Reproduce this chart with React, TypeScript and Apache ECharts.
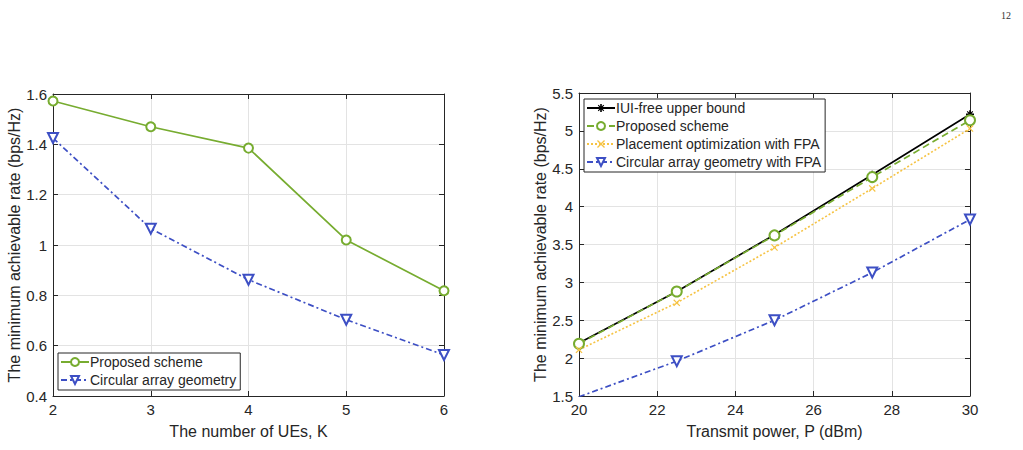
import React, { useEffect, useRef } from "react";
import * as echarts from "echarts";

const ueCounts = [2, 3, 4, 5, 6];
const leftProposed = [1.572, 1.47, 1.385, 1.02, 0.818];
const leftCircular = [1.425, 1.065, 0.862, 0.703, 0.563];

const powers = [20, 22.5, 25, 27.5, 30];
const iuiFree = [2.2, 2.88, 3.63, 4.42, 5.22];
const rightProposed = [2.19, 2.88, 3.62, 4.39, 5.14];
const placementFPA = [2.11, 2.73, 3.46, 4.24, 5.03];
const circularFPA = [1.49, 1.96, 2.5, 3.13, 3.83];

const GREEN = "#77AC30";
const BLUE = "#3D4FC4";
const YELLOW = "#F6C343";
const AXIS = "#262626";
const FONT = "Liberation Sans, Arial, Helvetica, sans-serif";

const X_SYM = "path://M0,1.2 L1.2,0 L5,3.8 L8.8,0 L10,1.2 L6.2,5 L10,8.8 L8.8,10 L5,6.2 L1.2,10 L0,8.8 L3.8,5 Z";
const STAR_SYM =
  "path://M4,0 L6,0 L6,10 L4,10 Z M0,4 L10,4 L10,6 L0,6 Z M1,2 L2,1 L9,8 L8,9 Z M8,1 L9,2 L2,9 L1,8 Z";

const nameMap: Record<string, string> = {
  "Proposed scheme ": "Proposed scheme",
};

function zip(xs: number[], ys: number[]) {
  return xs.map((x, i) => [x, ys[i]]);
}

export default function App() {
  const ref = useRef<HTMLDivElement>(null);
  useEffect(() => {
    if (!ref.current) return;
    const chart = echarts.init(ref.current, undefined, { renderer: "svg" });
    const axisCommon = {
      type: "value" as const,
      axisLine: { show: true, lineStyle: { color: AXIS, width: 1 } },
      axisTick: { show: true, inside: true, length: 5, lineStyle: { color: AXIS } },
      axisLabel: { color: AXIS, fontSize: 15, fontFamily: FONT, margin: 6 },
      splitLine: { show: true, lineStyle: { color: "#e3e3e3", width: 1 } },
      nameLocation: "middle" as const,
      nameTextStyle: { color: AXIS, fontSize: 16, fontFamily: FONT },
    };
    const mirror = {
      type: "value" as const,
      axisLine: { show: true, lineStyle: { color: AXIS, width: 1 } },
      axisTick: { show: true, inside: true, length: 5, lineStyle: { color: AXIS } },
      axisLabel: { show: false },
      splitLine: { show: false },
    };
    const legendCommon = {
      orient: "vertical" as const,
      itemWidth: 28,
      itemHeight: 10,
      padding: [2, 4, 3, 2],
      borderColor: AXIS,
      borderWidth: 1,
      backgroundColor: "#ffffff",
      textStyle: { color: AXIS, fontSize: 14, fontFamily: FONT, padding: [0, 0, 0, -4] },
      selectedMode: false,
    };
    chart.setOption({
      animation: false,
      backgroundColor: "#ffffff",
      grid: [
        { left: 53, top: 94, width: 391, height: 302 },
        { left: 579, top: 93, width: 391, height: 303 },
      ],
      xAxis: [
        { ...axisCommon, gridIndex: 0, min: 2, max: 6, interval: 1, name: "The number of UEs, K", nameGap: 27 },
        { ...axisCommon, gridIndex: 1, min: 20, max: 30, interval: 2, name: "Transmit power, P (dBm)", nameGap: 27 },
        { ...mirror, gridIndex: 0, position: "top", min: 2, max: 6, interval: 1 },
        { ...mirror, gridIndex: 1, position: "top", min: 20, max: 30, interval: 2 },
      ],
      yAxis: [
        { ...axisCommon, gridIndex: 0, min: 0.4, max: 1.6, interval: 0.2, name: "The minimum achievable rate (bps/Hz)", nameGap: 31 },
        { ...axisCommon, gridIndex: 1, min: 1.5, max: 5.5, interval: 0.5, name: "The minimum achievable rate (bps/Hz)", nameGap: 31 },
        { ...mirror, gridIndex: 0, position: "right", min: 0.4, max: 1.6, interval: 0.2 },
        { ...mirror, gridIndex: 1, position: "right", min: 1.5, max: 5.5, interval: 0.5 },
      ],
      legend: [
        {
          ...legendCommon,
          data: ["Proposed scheme", "Circular array geometry"],
          left: 58,
          top: 353,
          itemGap: 4,
        },
        {
          ...legendCommon,
          data: [
            "IUI-free upper bound",
            "Proposed scheme ",
            "Placement optimization with FPA",
            "Circular array geometry with FPA",
          ],
          formatter: (n: string) => nameMap[n] || n,
          left: 584,
          top: 99,
          itemGap: 4,
        },
      ],
      series: [
        {
          name: "Proposed scheme",
          type: "line",
          xAxisIndex: 0,
          yAxisIndex: 0,
          data: zip(ueCounts, leftProposed),
          symbol: "emptyCircle",
          symbolSize: 9,
          color: GREEN,
          lineStyle: { color: GREEN, width: 1.7 },
          itemStyle: { color: GREEN, borderWidth: 1.5 },
        },
        {
          name: "Circular array geometry",
          type: "line",
          xAxisIndex: 0,
          yAxisIndex: 0,
          data: zip(ueCounts, leftCircular),
          symbol: "emptyTriangle",
          symbolRotate: 180,
          symbolSize: 10,
          color: BLUE,
          lineStyle: { color: BLUE, width: 1.7, type: [6, 3, 2, 3] },
          itemStyle: { color: BLUE, borderWidth: 1.3 },
        },
        {
          name: "IUI-free upper bound",
          type: "line",
          xAxisIndex: 1,
          yAxisIndex: 1,
          data: zip(powers, iuiFree),
          symbol: STAR_SYM,
          symbolSize: 8,
          color: "#000000",
          lineStyle: { color: "#000000", width: 1.7 },
          itemStyle: { color: "#000000" },
        },
        {
          name: "Proposed scheme ",
          type: "line",
          xAxisIndex: 1,
          yAxisIndex: 1,
          data: zip(powers, rightProposed),
          symbol: "emptyCircle",
          symbolSize: 10,
          color: GREEN,
          lineStyle: { color: GREEN, width: 1.7, type: [7, 4] },
          itemStyle: { color: GREEN, borderWidth: 1.6 },
        },
        {
          name: "Placement optimization with FPA",
          type: "line",
          xAxisIndex: 1,
          yAxisIndex: 1,
          data: zip(powers, placementFPA),
          symbol: X_SYM,
          symbolSize: 7,
          color: YELLOW,
          lineStyle: { color: YELLOW, width: 1.6, type: [2, 2] },
          itemStyle: { color: YELLOW },
        },
        {
          name: "Circular array geometry with FPA",
          type: "line",
          xAxisIndex: 1,
          yAxisIndex: 1,
          data: zip(powers, circularFPA),
          symbol: "emptyTriangle",
          symbolRotate: 180,
          symbolSize: 10,
          color: BLUE,
          lineStyle: { color: BLUE, width: 1.7, type: [6, 3, 2, 3] },
          itemStyle: { color: BLUE, borderWidth: 1.3 },
        },
      ],
      graphic: [
        {
          type: "text",
          right: 12,
          top: 10,
          style: { text: "12", fontSize: 10, fontFamily: "Liberation Serif, Times New Roman, serif", fill: "#333" },
        },
      ],
    });
    return () => chart.dispose();
  }, []);
  return (
    <div
      ref={ref}
      style={{ position: "fixed", left: 0, top: 0, width: 1023, height: 450 }}
    />
  );
}
